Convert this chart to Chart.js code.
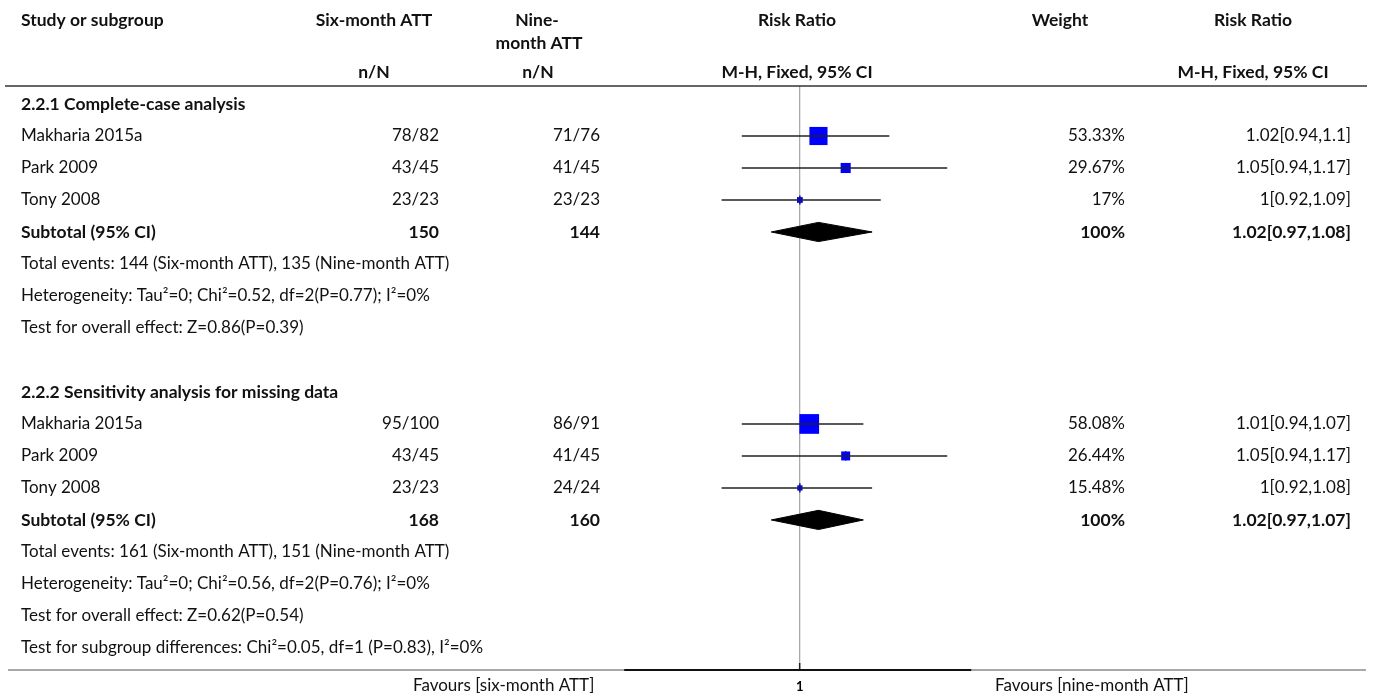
<!DOCTYPE html>
<html>
<head>
<meta charset="utf-8">
<script src="https://cdn.jsdelivr.net/npm/chart.js@4.4.1/dist/chart.umd.min.js"></script>
<style>
  html, body { margin: 0; padding: 0; background: #fff; }
  #wrap { width: 1375px; height: 699px; position: relative; }
</style>
</head>
<body>
<div id="wrap"><canvas id="forest"></canvas></div>
<script>
// rows are counted from the first subgroup heading (row 0) downwards
const studyNames = ['Makharia 2015a', 'Park 2009', 'Tony 2008', 'Makharia 2015a', 'Park 2009', 'Tony 2008'];
const studyRows = [1, 2, 3, 10, 11, 12];
const sixMonth = ['78/82', '43/45', '23/23', '95/100', '43/45', '23/23'];
const nineMonth = ['71/76', '41/45', '23/23', '86/91', '41/45', '24/24'];
const riskRatio = [1.02, 1.05, 1, 1.01, 1.05, 1];
const ciLow = [0.94, 0.94, 0.92, 0.94, 0.94, 0.92];
const ciHigh = [1.1, 1.17, 1.09, 1.07, 1.17, 1.08];
const weights = [53.33, 29.67, 17, 58.08, 26.44, 15.48];

const subgroupNames = ['2.2.1 Complete-case analysis', '2.2.2 Sensitivity analysis for missing data'];
const subgroupRows = [0, 9];
const subtotalRows = [4, 13];
const subtotalSix = ['150', '168'];
const subtotalNine = ['144', '160'];
const subtotalRR = [1.02, 1.02];
const subtotalLow = [0.97, 0.97];
const subtotalHigh = [1.08, 1.07];
const subtotalWeight = ['100%', '100%'];

const noteRows = [5, 6, 7, 14, 15, 16, 17];
const notes = [
  'Total events: 144 (Six-month ATT), 135 (Nine-month ATT)',
  'Heterogeneity: Tau\u00b2=0; Chi\u00b2=0.52, df=2(P=0.77); I\u00b2=0%',
  'Test for overall effect: Z=0.86(P=0.39)',
  'Total events: 161 (Six-month ATT), 151 (Nine-month ATT)',
  'Heterogeneity: Tau\u00b2=0; Chi\u00b2=0.56, df=2(P=0.76); I\u00b2=0%',
  'Test for overall effect: Z=0.62(P=0.54)',
  'Test for subgroup differences: Chi\u00b2=0.05, df=1 (P=0.83), I\u00b2=0%'
];

const xTicks = [1];
const favoursLeft = 'Favours [six-month ATT]';
const favoursRight = 'Favours [nine-month ATT]';

const FONT = 'Lato, "Source Sans Pro", sans-serif';
const DIAMOND_H = 0.3;

const ciLabel = (m, lo, hi) => m + '[' + lo + ',' + hi + ']';

// ---- datasets ----
const datasets = [];

studyRows.forEach((row, i) => {
  datasets.push({
    type: 'line',
    data: [{ x: ciLow[i], y: row }, { x: ciHigh[i], y: row }],
    borderColor: '#222',
    borderWidth: 1.6,
    pointRadius: 0,
    fill: false
  });
});

// weight squares, side proportional to weight
datasets.push({
  type: 'scatter',
  data: studyRows.map((row, i) => ({ x: riskRatio[i], y: row })),
  pointStyle: 'rect',
  pointRadius: ctx => 0.34 * weights[ctx.dataIndex] / Math.SQRT2,
  pointHoverRadius: ctx => 0.34 * weights[ctx.dataIndex] / Math.SQRT2,
  backgroundColor: '#0000ff',
  borderWidth: 0
});

// small vertical mark at the point estimate
datasets.push({
  type: 'scatter',
  data: studyRows.map((row, i) => ({ x: riskRatio[i], y: row })),
  pointStyle: 'line',
  rotation: 90,
  pointRadius: 4.6,
  borderColor: '#111',
  borderWidth: 1.3
});

subtotalRows.forEach((row, i) => {
  datasets.push({
    type: 'line',
    data: [
      { x: subtotalLow[i], y: row },
      { x: subtotalRR[i], y: row - DIAMOND_H },
      { x: subtotalHigh[i], y: row },
      { x: subtotalRR[i], y: row + DIAMOND_H },
      { x: subtotalLow[i], y: row }
    ],
    borderColor: '#000',
    borderWidth: 1,
    backgroundColor: '#000',
    pointRadius: 0,
    fill: 'shape',
    tension: 0
  });
});

// ---- table text and rules ----
const tablePlugin = {
  id: 'forestTable',
  afterDraw(chart) {
    const ctx = chart.ctx;
    const y = chart.scales.y;
    const area = chart.chartArea;
    const reg = '17px ' + FONT;
    const bold = 'bold 17.5px ' + FONT;
    const text = (s, x, py, align, font) => {
      ctx.font = font;
      ctx.textAlign = align;
      ctx.fillText(s, x, py);
    };
    ctx.save();
    ctx.fillStyle = '#111';
    ctx.textBaseline = 'middle';

    // header
    text('Study or subgroup', 21, 20, 'left', bold);
    text('Six-month ATT', 374, 20, 'center', bold);
    text('Nine-', 537, 20, 'center', bold);
    text('month ATT', 539, 43, 'center', bold);
    text('Risk Ratio', 797, 20, 'center', bold);
    text('Weight', 1060, 20, 'center', bold);
    text('Risk Ratio', 1253, 20, 'center', bold);
    text('n/N', 374, 72, 'center', bold);
    text('n/N', 538, 72, 'center', bold);
    text('M-H, Fixed, 95% CI', 797, 72, 'center', bold);
    text('M-H, Fixed, 95% CI', 1253, 72, 'center', bold);

    subgroupNames.forEach((s, i) => text(s, 21, y.getPixelForValue(subgroupRows[i]), 'left', bold));

    studyRows.forEach((row, i) => {
      const py = y.getPixelForValue(row);
      text(studyNames[i], 21, py, 'left', reg);
      text(sixMonth[i], 439, py, 'right', reg);
      text(nineMonth[i], 600, py, 'right', reg);
      text(weights[i] + '%', 1125, py, 'right', reg);
      text(ciLabel(riskRatio[i], ciLow[i], ciHigh[i]), 1351, py, 'right', reg);
    });

    subtotalRows.forEach((row, i) => {
      const py = y.getPixelForValue(row);
      text('Subtotal (95% CI)', 21, py, 'left', bold);
      text(subtotalSix[i], 439, py, 'right', bold);
      text(subtotalNine[i], 600, py, 'right', bold);
      text(subtotalWeight[i], 1125, py, 'right', bold);
      text(ciLabel(subtotalRR[i], subtotalLow[i], subtotalHigh[i]), 1351, py, 'right', bold);
    });

    noteRows.forEach((row, i) => text(notes[i], 21, y.getPixelForValue(row), 'left', reg));

    text(favoursLeft, 413, area.bottom + 16, 'left', reg);
    text(favoursRight, 995, area.bottom + 16, 'left', reg);

    // table rules
    ctx.strokeStyle = '#333';
    ctx.lineWidth = 1.5;
    ctx.beginPath();
    ctx.moveTo(5, area.top);
    ctx.lineTo(1367, area.top);
    ctx.stroke();
    ctx.strokeStyle = '#555';
    ctx.lineWidth = 1.2;
    ctx.beginPath();
    ctx.moveTo(8, area.bottom);
    ctx.lineTo(area.left, area.bottom);
    ctx.moveTo(area.right, area.bottom);
    ctx.lineTo(1366, area.bottom);
    ctx.stroke();
    ctx.restore();
  }
};

new Chart(document.getElementById('forest'), {
  type: 'scatter',
  data: { datasets },
  options: {
    responsive: true,
    maintainAspectRatio: false,
    animation: false,
    events: [],
    layout: { padding: { left: 625, right: 404, top: 86, bottom: 0 } },
    plugins: { legend: { display: false }, tooltip: { enabled: false } },
    scales: {
      x: {
        type: 'logarithmic',
        min: 1 / 1.2,
        max: 1.2,
        afterBuildTicks: scale => { scale.ticks = xTicks.map(v => ({ value: v })); },
        afterFit: scale => { scale.height = 29; },
        grid: { color: '#aaa', lineWidth: 1.3, drawTicks: true, tickLength: -7, tickColor: '#222', tickWidth: 1.5 },
        border: { display: true, color: '#111', width: 2 },
        ticks: {
          padding: 16,
          color: '#000',
          font: { family: FONT, size: 13, weight: 'bold' },
          callback: v => String(v)
        }
      },
      y: {
        type: 'linear',
        reverse: true,
        min: -0.5625,
        max: 17.69,
        display: false
      }
    }
  },
  plugins: [tablePlugin]
});
</script>
</body>
</html>
